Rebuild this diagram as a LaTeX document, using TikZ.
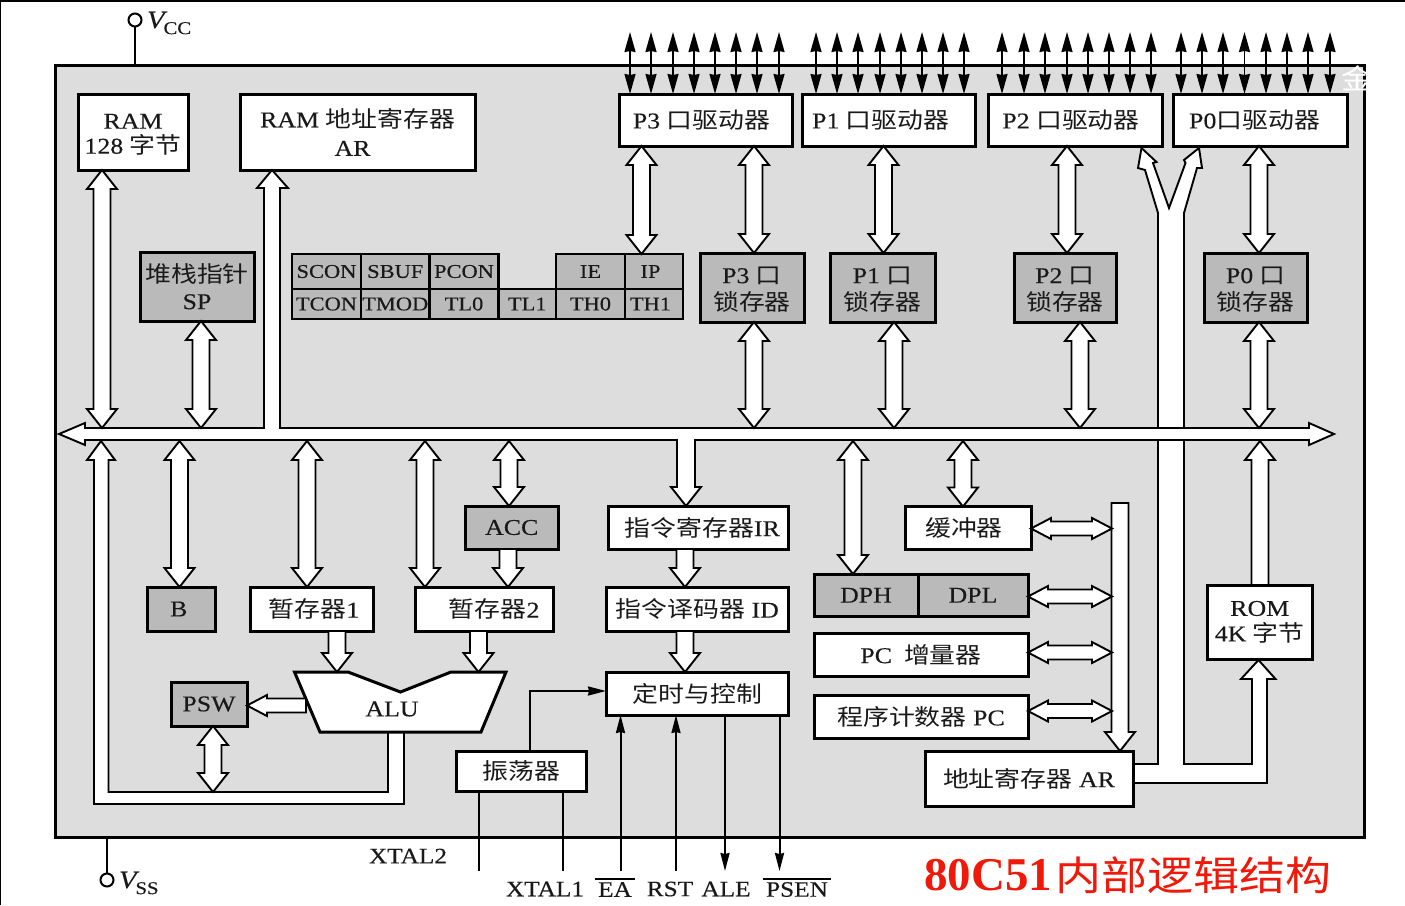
\documentclass[tikz,border=0pt]{standalone}
\usepackage{fontspec}
\setmainfont[FakeStretch=1.15,FakeBold=0.25]{Liberation Serif}
\newfontfamily\cjk[FakeStretch=1.15]{Noto Sans CJK SC}
\newfontfamily\titlelat[BoldFont={Liberation Serif Bold}]{Liberation Serif}
\usetikzlibrary{arrows.meta,calc}
\definecolor{chipbg}{HTML}{DDDDDD}
\definecolor{reggray}{HTML}{BABABA}
\definecolor{titlered}{HTML}{F01808}
\newcommand{\zh}[1]{{\cjk #1}}
\newcommand{\fs}[1]{\fontsize{#1}{#1}\selectfont}
\newcommand{\lbl}[3][5pt]{#2\rule{0pt}{20pt}\\[#1]#3}
\def\fsw{8.5pt}\def\fhw{15pt}\def\fhl{19pt}
\tikzset{
  regbox/.style={draw=black,line width=3pt,inner sep=0pt,outer sep=0pt,align=center,font=\fs{22.5},text=black!90},
  wbox/.style={regbox,fill=white},
  gbox/.style={regbox,fill=reggray},
  cell/.style={regbox,fill=reggray,line width=2.5pt,font=\fs{19.5}},
  fatpoly/.style={draw=black,fill=white,line width=1.9pt,line join=miter},
  narrowfat/.code={\def\fsw{7pt}\def\fhw{10.5pt}\def\fhl{20pt}},
  fatboth/.style={fatpoly,to path={
    let \p1=(\tikztostart),\p2=(\tikztotarget),
        \n1={atan2(\y2-\y1,\x2-\x1)},\n2={veclen(\y2-\y1,\x2-\x1)} in
    {[shift={(\p1)},rotate=\n1]
      -- (\fhl,\fhw) -- (\fhl,\fsw) -- ({\n2*1pt-\fhl},\fsw) -- ({\n2*1pt-\fhl},\fhw)
      -- ({\n2*1pt},0pt)
      -- ({\n2*1pt-\fhl},-\fhw) -- ({\n2*1pt-\fhl},-\fsw) -- (\fhl,-\fsw) -- (\fhl,-\fhw) -- cycle}}},
  fatone/.style={fatpoly,to path={
    let \p1=(\tikztostart),\p2=(\tikztotarget),
        \n1={atan2(\y2-\y1,\x2-\x1)},\n2={veclen(\y2-\y1,\x2-\x1)} in
    {[shift={(\p1)},rotate=\n1]
      -- (0pt,\fsw) -- ({\n2*1pt-\fhl},\fsw) -- ({\n2*1pt-\fhl},\fhw)
      -- ({\n2*1pt},0pt)
      -- ({\n2*1pt-\fhl},-\fhw) -- ({\n2*1pt-\fhl},-\fsw) -- (0pt,-\fsw) -- cycle}}},
  portline/.style={draw=black,line width=1.7pt,
    {Stealth[length=20pt,width=11pt,inset=1pt]}-{Stealth[length=20pt,width=11pt,inset=1pt]}},
  sigin/.style={draw=black,line width=2pt,-{Stealth[length=18pt,width=9pt,inset=1pt]}},
  sigwire/.style={draw=black,line width=2pt},
  pinlabel/.style={inner sep=0pt,outer sep=0pt,font=\fs{22},text=black!90},
  pincircle/.style={draw=black,line width=2pt,fill=white,circle,minimum size=13pt,inner sep=0pt,outer sep=0pt},
}
\newcommand{\rbox}[7][]{\node[#2,minimum width={(#5-#3)*1pt},minimum height={(#6-#4)*1pt},#1] at ({(#3+#5)/2},{(#4+#6)/2}) #7;}
\begin{document}
\begin{tikzpicture}[x=1pt,y=-1pt]
\useasboundingbox (0,0) rectangle (1405,905);
\fill[white] (0,0) rectangle (1405,905);
\fill[black] (0,0) rectangle (1405,2);
\fill[black] (0,0) rectangle (1,905);

% chip
\node[draw=black,fill=chipbg,line width=3pt,minimum width=1309pt,minimum height=772pt,inner sep=0pt,outer sep=0pt] (chip) at (709.5,451) {};
% corner watermark
\node[inner sep=0pt,text=white,font=\cjk\fs{28}] (wm) at (1358,78) {金};

% boxes
\rbox{wbox}{78}{94}{188}{170}{(ram) {\lbl[2.5pt]{RAM}{128 \zh{字节}}}}
\rbox{wbox}{240}{94}{475}{170}{(ramar) {RAM \zh{地址寄存器}\\[6pt]\hspace*{-10pt}AR}}
\rbox{wbox}{619}{94}{792}{146}{(p3d) {P3 \zh{口驱动器}\hspace*{8pt}}}
\rbox{wbox}{802.5}{94}{975}{146}{(p1d) {P1 \zh{口驱动器}\hspace*{16pt}}}
\rbox{wbox}{988}{94}{1162}{146}{(p2d) {P2 \zh{口驱动器}\hspace*{8pt}}}
\rbox{wbox}{1173.5}{94}{1347.5}{146}{(p0d) {P0\zh{口驱动器}\hspace*{12pt}}}
\rbox{gbox}{140}{252}{254}{321}{(sp) {\zh{堆栈指针}\\[4pt]SP}}
\rbox{gbox}{700}{253}{804}{322}{(p3l) {\lbl[4.5pt]{P3 \zh{口}}{\zh{锁存器}}}}
\rbox{gbox}{830}{253}{935}{322}{(p1l) {\lbl[4.5pt]{P1 \zh{口}}{\zh{锁存器}}}}
\rbox{gbox}{1014}{253}{1116}{322}{(p2l) {\lbl[4.5pt]{P2 \zh{口}}{\zh{锁存器}}}}
\rbox{gbox}{1204.5}{253}{1307}{322}{(p0l) {\lbl[4.5pt]{P0 \zh{口}}{\zh{锁存器}}}}

% SFR table
\rbox{cell}{292}{254}{361}{289}{(scon) {SCON}}
\rbox{cell}{361}{254}{429.5}{289}{(sbuf) {SBUF}}
\rbox{cell}{429.5}{254}{498.5}{289}{(pcon) {PCON}}
\rbox{cell}{556}{254}{625}{289}{(ie) {IE}}
\rbox{cell}{625}{254}{683}{289}{(ip) {\hspace*{-7pt}IP}}
\rbox{cell}{292}{289}{361}{319}{(tcon) {TCON}}
\rbox{cell}{361}{289}{429.5}{319}{(tmod) {TMOD}}
\rbox{cell}{429.5}{289}{498.5}{319}{(tlo) {TL0}}
\rbox{cell}{498.5}{289}{556}{319}{(tli) {TL1}}
\rbox{cell}{556}{289}{625}{319}{(tho) {TH0}}
\rbox{cell}{625}{289}{683}{319}{(thi) {\hspace*{-7pt}TH1}}

\rbox{gbox}{147}{587}{215.5}{631}{(regb) {\hspace*{-5pt}B}}
\rbox{wbox}{250}{587}{373}{631}{(tmpa) {\hspace*{5pt}\zh{暂存器}1}}
\rbox{wbox}{415}{587}{553.5}{631}{(tmpb) {\hspace*{20pt}\zh{暂存器}2}}
\rbox{gbox}{465.5}{506}{558}{549}{(acc) {ACC}}
\rbox{wbox}{608}{506}{788.5}{549}{(ir) {\hspace*{8pt}\zh{指令寄存器}IR}}
\rbox{wbox}{606}{587}{788.5}{631}{(id) {\zh{指令译码器} ID}}
\rbox{wbox}{606}{672}{788.5}{715}{(ctl) {\zh{定时与控制}}}
\rbox{gbox}{171}{682}{247}{726}{(psw) {PSW}}
\rbox{wbox}{456.5}{751}{586}{791}{(osc) {\zh{振荡器}}}
\rbox{wbox}{905}{506.5}{1031}{549}{(buf) {\hspace*{-8pt}\zh{缓冲器}}}
\rbox{gbox}{814}{574}{918}{616.5}{(dph) {DPH}}
\rbox{gbox}{918}{574}{1028}{616.5}{(dpl) {DPL}}
\rbox{wbox}{814}{633}{1028}{676}{(pci) {\raisebox{-3pt}{PC\hspace{12pt}\zh{增量器}}}}
\rbox{wbox}{814}{695.5}{1028}{738}{(pc) {\raisebox{-1pt}{\zh{程序计数器} PC}}}
\rbox{wbox}{1207}{585}{1312.5}{659}{(rom) {ROM\\[3pt]4K \zh{字节}}}

% AR -> column / fork -> ROM
\draw[fatpoly] (1133,764) -- (1158,764) -- (1158,213) -- (1145,170) -- (1138,168)
  -- (1141.5,148) -- (1156.5,162) -- (1153,163) -- (1169,208) -- (1185.5,163) -- (1184,160)
  -- (1199,148) -- (1202,168) -- (1197,168) -- (1184,213) -- (1184,764) -- (1252,764)
  -- (1252,679) -- (1241,679) -- (1258.5,660) -- (1275.5,679) -- (1267,679) -- (1267,783) -- (1133,783) -- cycle;
\rbox{wbox}{925}{751}{1133}{806}{(ar) {\zh{地址寄存器} AR}}

% internal bus with RAM-address and IR branches
\draw[fatpoly] (59,434) -- (85,423) -- (85,428) -- (264,428) -- (264,188) -- (257,188)
  -- (272,0 |- ramar.south) -- (288,188) -- (280,188) -- (280,428) -- (1309,428) -- (1309,423)
  -- (1334,434) -- (1309,445) -- (1309,440) -- (695,440) -- (695,487) -- (701,487)
  -- (686,0 |- ir.north) -- (671,487) -- (677,487) -- (677,440) -- (85,440) -- (85,445) -- cycle;

% ALU and its result path
\draw[fatpoly] (101,441) -- (115,460) -- (108.5,460) -- (108.5,792) -- (388,792) -- (388,732)
  -- (404,732) -- (404,804) -- (94,804) -- (94,460) -- (87,460) -- cycle;
\draw[regbox,fill=white] (294.5,672) -- (348,672) -- (400.5,692) -- (451,672) -- (506,672) -- (481,732) -- (320,732) -- cycle;
\node[inner sep=0pt,font=\fs{22.5},text=black!90] (alu) at (392,709) {ALU};
\coordinate (aluleft) at (306,705.5);
\coordinate (bustop) at (0,428);
\coordinate (busbot) at (0,441);
\coordinate (resline) at (0,792);

% double arrows
\draw[fatboth] (102,0 |- ram.south) to (102,0 |- bustop);
\draw[fatboth] (201,0 |- sp.south) to (201,0 |- bustop);
\draw[fatboth] (641.5,0 |- p3d.south) to (641.5,0 |- ip.north);
\draw[fatboth] (754,0 |- p3d.south) to (754,0 |- p3l.north);
\draw[fatboth] (754,0 |- p3l.south) to (754,0 |- bustop);
\draw[fatboth] (883.5,0 |- p1d.south) to (883.5,0 |- p1l.north);
\draw[fatboth] (894,0 |- p1l.south) to (894,0 |- bustop);
\draw[fatboth] (1067,0 |- p2d.south) to (1067,0 |- p2l.north);
\draw[fatboth] (1080,0 |- p2l.south) to (1080,0 |- bustop);
\draw[fatboth] (1259,0 |- p0d.south) to (1259,0 |- p0l.north);
\draw[fatboth] (1259,0 |- p0l.south) to (1259,0 |- bustop);
\draw[fatboth] (179.5,0 |- busbot) to (179.5,0 |- regb.north);
\draw[fatboth] (307,0 |- busbot) to (307,0 |- tmpa.north);
\draw[fatboth] (425,0 |- busbot) to (425,0 |- tmpb.north);
\draw[fatboth] (509,0 |- busbot) to (509,0 |- acc.north);
\draw[fatboth] (853,0 |- busbot) to (853,0 |- dph.north);
\draw[fatboth] (963,0 |- busbot) to (963,0 |- buf.north);
\draw[fatboth] (213,0 |- psw.south) to (213,0 |- resline);

% single arrows
\draw[fatone] (508,0 |- acc.south) to (508,0 |- tmpb.north);
\draw[fatone] (685,0 |- ir.south) to (685,0 |- id.north);
\draw[fatone] (685,0 |- id.south) to (685,0 |- ctl.north);
\draw[fatone] (337,0 |- tmpa.south) to (337,672);
\draw[fatone] (478.5,0 |- tmpb.south) to (478.5,672);
\draw[fatone] (1260,0 |- rom.north) to (1260,0 |- busbot);
\draw[fatone,narrowfat] (aluleft) to (psw.east |- aluleft);

% address bar
\coordinate (bartop) at (1120,503);
\draw[fatone] (bartop) to (1120,0 |- ar.north);
\coordinate (barleft) at (1112,0);
\draw[fatboth,narrowfat] (buf.east |- 0,528.5) to (barleft |- 0,528.5);
\draw[fatboth,narrowfat] (dpl.east |- 0,596.5) to (barleft |- 0,596.5);
\draw[fatboth,narrowfat] (pci.east |- 0,652.5) to (barleft |- 0,652.5);
\draw[fatboth,narrowfat] (pc.east |- 0,711) to (barleft |- 0,711);

% port pin arrows
\foreach \px in {630,651,673,694,715,736,757,779}{\draw[portline] (\px,32) -- (\px,0 |- p3d.north);}
\foreach \px in {816,837,858,880,901,922,943,964}{\draw[portline] (\px,32) -- (\px,0 |- p1d.north);}
\foreach \px in {1002,1024,1045,1067,1088,1109,1130,1151}{\draw[portline] (\px,32) -- (\px,0 |- p2d.north);}
\foreach \px in {1181,1202,1223,1244.5,1266,1287,1308,1330}{\draw[portline] (\px,32) -- (\px,0 |- p0d.north);}

% control signals
\draw[sigin] (529.5,0 |- osc.north) -- (529.5,691) -- (ctl.west |- 0,691);
\coordinate (pinbot) at (0,871);
\draw[sigwire] (479,0 |- osc.south) -- (479,0 |- pinbot);
\draw[sigwire] (563,0 |- osc.south) -- (563,0 |- pinbot);
\draw[sigin] (620.5,0 |- pinbot) -- (620.5,0 |- ctl.south);
\draw[sigin] (676,0 |- pinbot) -- (676,0 |- ctl.south);
\draw[sigin] (725,0 |- ctl.south) -- (725,0 |- pinbot);
\draw[sigin] (779.5,0 |- ctl.south) -- (779.5,0 |- pinbot);

% pin labels
\node[pinlabel] (xt2) at (408,856) {XTAL2};
\node[pinlabel] (xt1) at (545,889) {XTAL1};
\node[pinlabel,inner sep=3pt] (ea) at (615,889.5) {EA};
\node[pinlabel] (rst) at (670,889) {RST};
\node[pinlabel] (ale) at (726,889) {ALE};
\node[pinlabel,inner sep=3pt] (psen) at (797,889.5) {PSEN};
\draw[sigwire] (ea.north west) -- (ea.north east);
\draw[sigwire] (psen.north west) -- (psen.north east);

% supplies
\node[pincircle] (vcc) at (135,20) {};
\draw[sigwire] (vcc.south) -- (vcc.south |- chip.north);
\node[pinlabel,anchor=west,font=\fs{25}] (vcclab) at (147,23) {\itshape V\kern-1pt\raisebox{-6pt}{\normalfont\fs{18}CC}};
\node[pincircle] (vss) at (107,880) {};
\draw[sigwire] (vss.north) -- (vss.north |- chip.south);
\node[pinlabel,anchor=west,font=\fs{25}] (vsslab) at (119,883) {\itshape V\kern-1pt\raisebox{-6pt}{\normalfont\fs{18}SS}};

% title
\node[anchor=west,inner sep=0pt,text=titlered] (title) at (924,875)
  {{\titlelat\bfseries\fs{47}80C51}\hspace{3pt}{\cjk\fs{40}内部逻辑结构}};
\end{tikzpicture}
\end{document}
